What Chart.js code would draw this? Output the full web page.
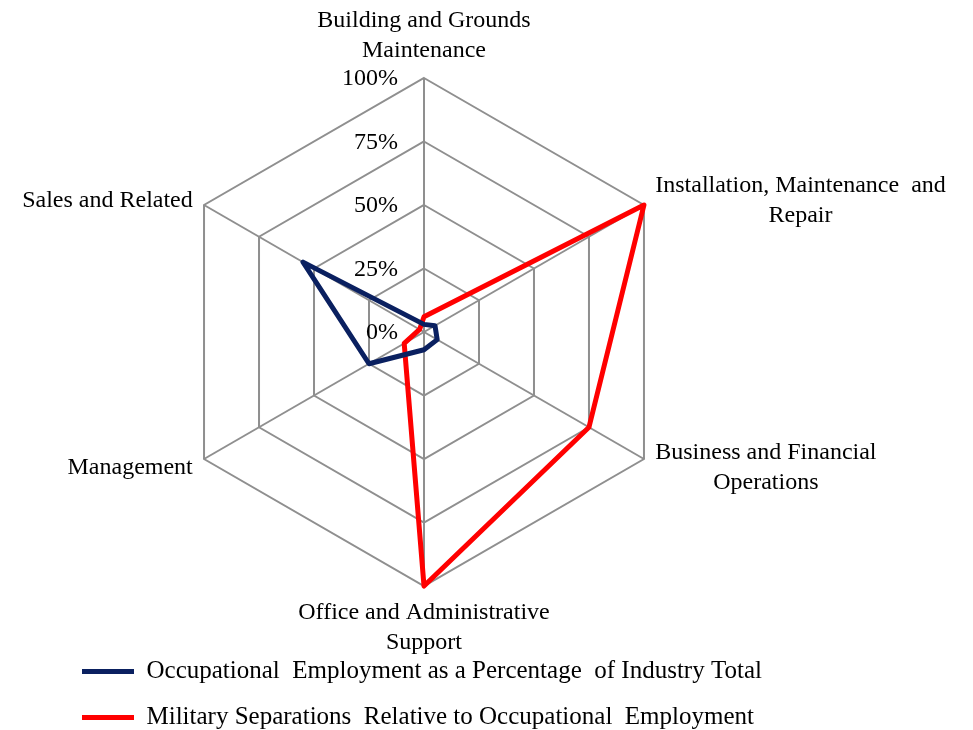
<!DOCTYPE html>
<html>
<head>
<meta charset="utf-8">
<title>Occupational radar</title>
<script src="https://cdn.jsdelivr.net/npm/chart.js@4/dist/chart.umd.min.js"></script>
<style>
  html, body { margin: 0; padding: 0; background: #fff; }
  canvas { display: block; }
</style>
</head>
<body>
<canvas id="radar" width="973" height="730"></canvas>
<script>
// axis categories, clockwise from the top
const categories = [
  ['Building and Grounds', 'Maintenance'],
  ['Installation, Maintenance  and', 'Repair'],
  ['Business and Financial', 'Operations'],
  ['Office and Administrative', 'Support'],
  ['Management'],
  ['Sales and Related']
];

const seriesNames = [
  'Occupational  Employment as a Percentage  of Industry Total',
  'Military Separations  Relative to Occupational  Employment'
];

// percent values
const employmentShare = [3, 5, 6, 7, 25, 55];
const separationsRatio = [6, 100, 75, 100, 9, 2];

const tickValues = [0, 25, 50, 75, 100];

const FONT = '"Liberation Serif", "Times New Roman", serif';
const GRID = '#8f8f8f';
const LABEL_PAD = 13;
const LINE_H = 30;

// tick labels sit left of the vertical axis; category labels are centred line by line
const radarText = {
  id: 'radarText',
  beforeDatasetsDraw(chart) {
    const scale = chart.scales.r;
    const ctx = chart.ctx;
    ctx.save();
    ctx.font = '24px ' + FONT;
    ctx.fillStyle = '#000';
    ctx.textBaseline = 'middle';

    ctx.textAlign = 'right';
    scale.ticks.forEach(t => {
      const y = scale.yCenter - scale.getDistanceFromCenterForValue(t.value);
      ctx.fillText(t.label, scale.xCenter - 26, y + 1);
    });

    ctx.textAlign = 'center';
    categories.forEach((lines, i) => {
      const pos = scale.getPointPosition(i, scale.drawingArea + LABEL_PAD);
      const w = Math.max(...lines.map(l => ctx.measureText(l).width));
      const h = lines.length * LINE_H;
      const dx = pos.x - scale.xCenter;
      let left, top;
      if (Math.abs(dx) < 1) {
        left = pos.x - w / 2;
        top = pos.y < scale.yCenter ? pos.y - h + 1 : pos.y - 1;
      } else {
        left = dx > 0 ? pos.x : pos.x - w;
        top = pos.y - h / 2 + 2;
      }
      lines.forEach((ln, k) => {
        ctx.fillText(ln, left + w / 2, top + LINE_H * (k + 0.5));
      });
    });
    ctx.restore();
  }
};

// legend sits flush left, lower under the chart, like the original
const legendPlace = {
  id: 'legendPlace',
  afterLayout(chart) {
    const lg = chart.legend;
    lg.left = 61;
    lg.top += 52;
    lg.bottom += 52;
  }
};

new Chart(document.getElementById('radar'), {
  type: 'radar',
  data: {
    labels: categories,
    datasets: [
      {
        label: seriesNames[0],
        data: employmentShare,
        borderColor: '#0a2060',
        backgroundColor: '#0a2060',
        borderWidth: 5,
        borderJoinStyle: 'round',
        borderCapStyle: 'round',
        fill: false,
        pointRadius: 0,
        pointHoverRadius: 0
      },
      {
        label: seriesNames[1],
        data: separationsRatio,
        borderColor: '#ff0000',
        backgroundColor: '#ff0000',
        borderWidth: 5,
        borderJoinStyle: 'round',
        borderCapStyle: 'round',
        fill: false,
        pointRadius: 0,
        pointHoverRadius: 0
      }
    ]
  },
  options: {
    responsive: false,
    devicePixelRatio: 1,
    animation: false,
    layout: {
      autoPadding: false,
      padding: { left: 0, right: 125, top: 78, bottom: 42 }
    },
    plugins: {
      tooltip: { enabled: false },
      legend: {
        position: 'bottom',
        align: 'start',
        labels: {
          usePointStyle: true,
          pointStyle: 'line',
          pointStyleWidth: 52,
          padding: 21,
          color: '#000',
          font: { family: FONT, size: 25 }
        }
      }
    },
    scales: {
      r: {
        min: tickValues[0],
        max: tickValues[tickValues.length - 1],
        ticks: {
          stepSize: 25,
          display: false,
          callback: v => v + '%'
        },
        grid: { color: GRID, lineWidth: 2 },
        angleLines: { color: GRID, lineWidth: 2 },
        pointLabels: { display: false }
      }
    }
  },
  plugins: [radarText, legendPlace]
});
</script>
</body>
</html>
